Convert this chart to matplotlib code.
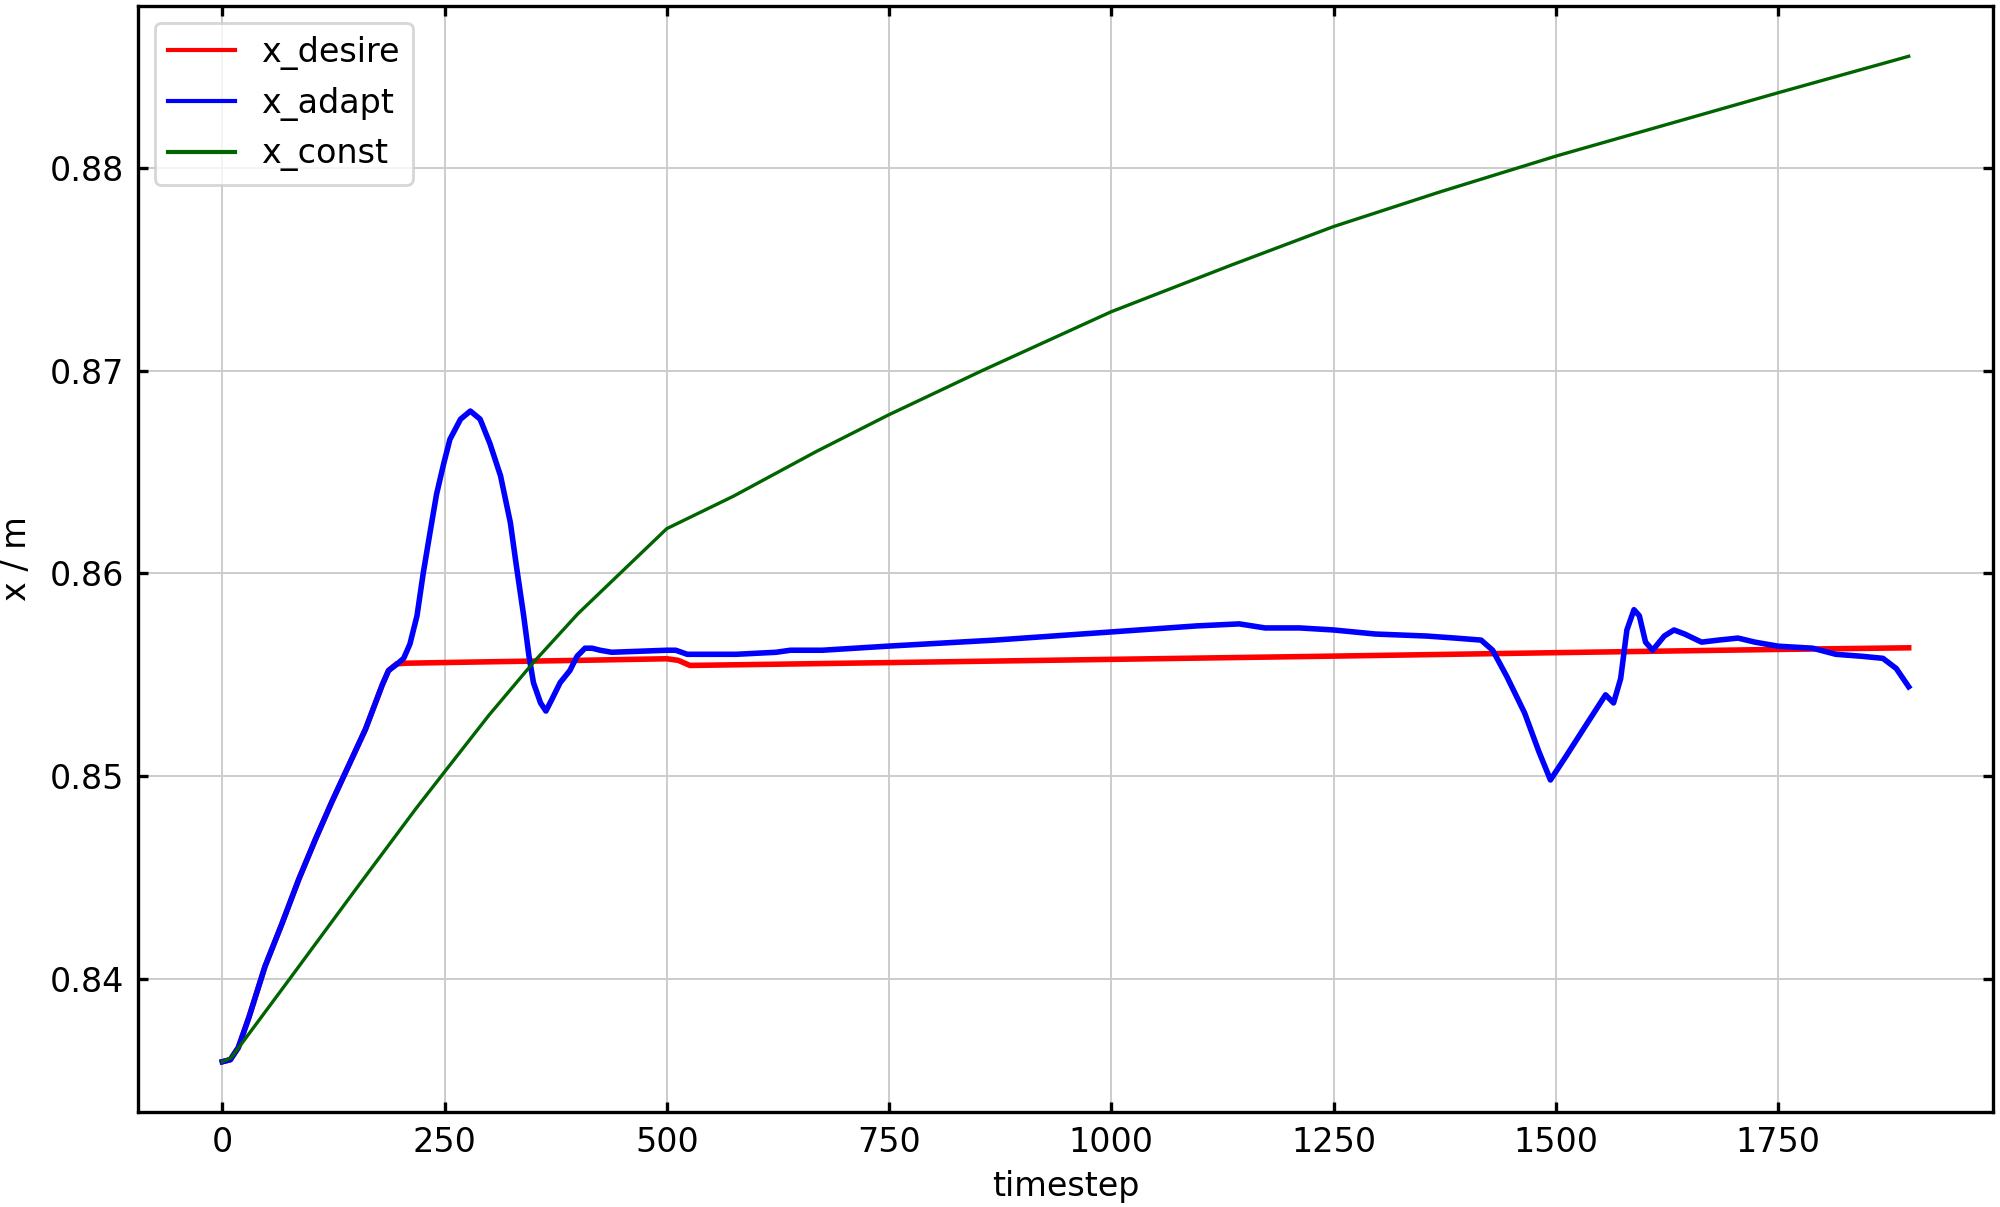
import matplotlib
matplotlib.use("Agg")
import matplotlib.pyplot as plt

# ---- data ----
desire_t = [0, 9, 18, 30, 48, 67, 86, 105, 123, 142, 161, 180, 187, 196, 206,
            300, 400, 500, 513, 526, 750, 1000, 1250, 1500, 1750, 1897]
desire_x = [0.8359, 0.8360, 0.8366, 0.8381, 0.8406, 0.8427, 0.8449, 0.8469,
            0.8487, 0.8505, 0.8523, 0.8545, 0.8552, 0.85553, 0.85556,
            0.85563, 0.8557, 0.85578, 0.8557, 0.85545, 0.85559, 0.85575,
            0.85591, 0.85608, 0.85624, 0.85632]

adapt_t = [0, 9, 18, 30, 48, 67, 86, 105, 123, 142, 161, 180, 187, 196, 204,
           211, 219, 226, 234, 241, 249, 256, 268, 279, 290, 301, 313, 324,
           331, 339, 345, 350, 358, 364, 371, 380, 391, 399, 408, 416, 425,
           438, 500, 510, 523, 578, 623, 639, 675, 748, 869, 999, 1096, 1144,
           1173, 1212, 1250, 1297, 1355, 1387, 1416, 1429, 1445, 1465, 1481,
           1494, 1512, 1531, 1556, 1565, 1573, 1580, 1588, 1594, 1601, 1609,
           1622, 1633, 1645, 1664, 1683, 1705, 1724, 1750, 1789, 1815, 1845,
           1868, 1883, 1897]
adapt_x = [0.8359, 0.8360, 0.8366, 0.8381, 0.8406, 0.8427, 0.8449, 0.8469,
           0.8487, 0.8505, 0.8523, 0.8545, 0.8552, 0.8555, 0.8558,
           0.8565, 0.8579, 0.8600, 0.8621, 0.8639, 0.8654, 0.8666, 0.8676,
           0.8680, 0.8676, 0.8664, 0.8648, 0.8625,
           0.8603, 0.8579, 0.8559, 0.8546, 0.8536, 0.8532, 0.8538, 0.8546,
           0.8552, 0.8559, 0.8563, 0.8563, 0.8562,
           0.8561, 0.8562, 0.8562, 0.8560, 0.8560, 0.8561, 0.8562, 0.8562,
           0.8564, 0.8567, 0.8571, 0.8574, 0.8575,
           0.8573, 0.8573, 0.8572, 0.8570, 0.8569, 0.8568, 0.8567, 0.8562,
           0.8549, 0.8531, 0.8512,
           0.8498, 0.8510, 0.8523, 0.8540, 0.8536, 0.8548, 0.8572, 0.8582,
           0.8579, 0.8566, 0.8562,
           0.8569, 0.8572, 0.8570, 0.8566, 0.8567, 0.8568, 0.8566, 0.8564,
           0.8563, 0.8560, 0.8559,
           0.8558, 0.8553, 0.8544]

const_t = [0, 10, 76, 150, 218, 250, 300, 350, 400, 450, 500, 575, 668, 749,
           855, 1000, 1135, 1250, 1369, 1502, 1630, 1750, 1897]
const_x = [0.8359, 0.8361, 0.8400, 0.8444, 0.8484, 0.8502, 0.8530, 0.8556,
           0.8580, 0.8601, 0.8622, 0.8638, 0.8660, 0.8678, 0.8700, 0.8729,
           0.8752, 0.8771, 0.8788, 0.8806, 0.8822, 0.8837, 0.8855]

series_labels = ["x_desire", "x_adapt", "x_const"]
x_ticks = [0, 250, 500, 750, 1000, 1250, 1500, 1750]
y_ticks = [0.84, 0.85, 0.86, 0.87, 0.88]

# ---- plot ----
fig = plt.figure(figsize=(10, 6.035), dpi=200)
ax = fig.add_axes([0.069, 0.0787, 0.9275, 0.9163])

ax.plot(desire_t, desire_x, color="#ff0000", lw=2.0, label=series_labels[0])
ax.plot(adapt_t, adapt_x, color="#0000ff", lw=2.0, label=series_labels[1])
ax.plot(const_t, const_x, color="#006400", lw=1.2, label=series_labels[2])

ax.set_xticks(x_ticks)
ax.set_yticks(y_ticks)
ax.grid(True, color="#cccccc", lw=0.7)
ax.set_axisbelow(True)
ax.tick_params(direction="in", top=True, right=True, length=3.5, width=1.2,
               labelsize=12, pad=5)
for sp in ax.spines.values():
    sp.set_linewidth(1.2)

ax.set_xlabel("timestep", fontsize=12, labelpad=4)
ax.set_ylabel("x / m", fontsize=12, labelpad=6)

leg = ax.legend(loc="upper left", fontsize=12)
for line in leg.get_lines():
    line.set_linewidth(1.5)

fig.savefig("out.png", dpi=200)
